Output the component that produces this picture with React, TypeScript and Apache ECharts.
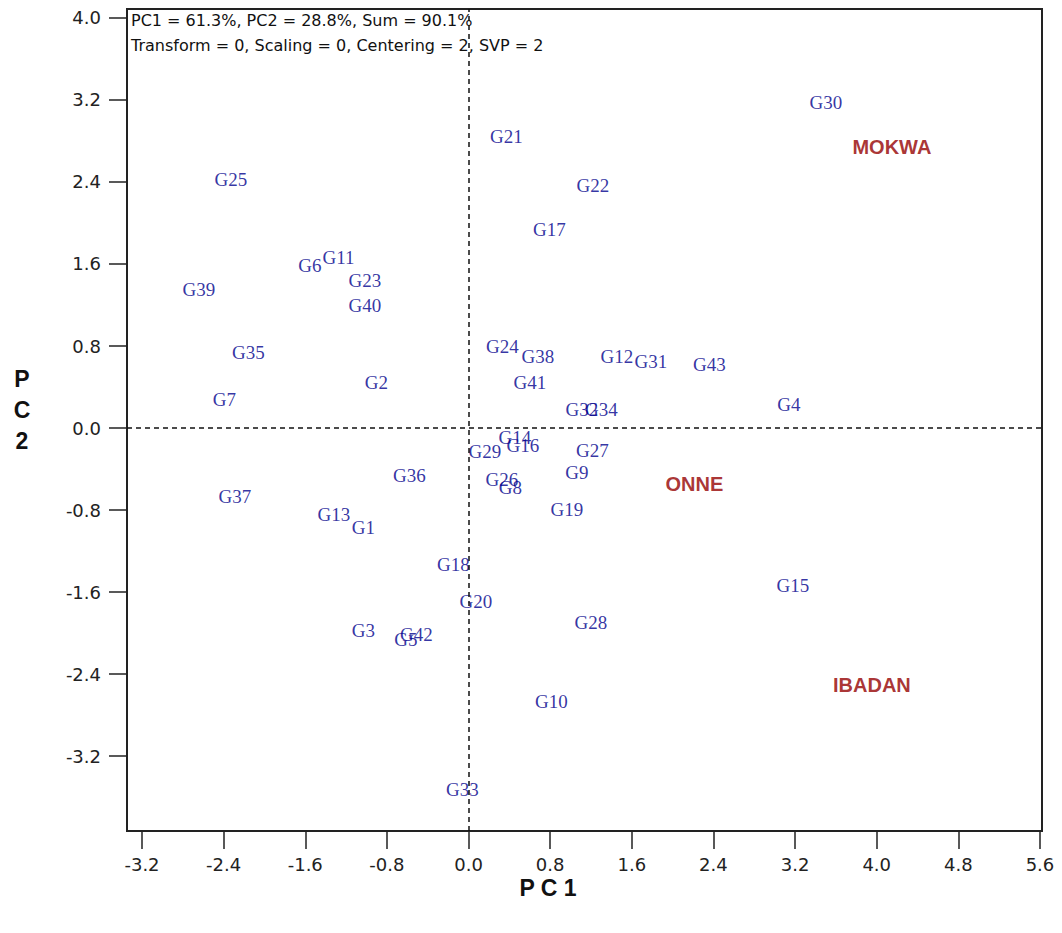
import React, { useEffect, useRef } from "react";
import * as echarts from "echarts";

const genotypes = ["G30","G21","G22","G17","G25","G11","G6","G23","G40","G39","G35","G7","G2","G24","G38","G41","G12","G31","G43","G4","G32","G34","G14","G16","G29","G27","G9","G26","G8","G19","G36","G37","G13","G1","G18","G20","G15","G28","G3","G42","G5","G10","G33"];
const genoPC1 = [3.503,0.371,1.219,0.793,-2.329,-1.275,-1.554,-1.015,-1.015,-2.642,-2.157,-2.392,-0.903,0.332,0.680,0.602,1.454,1.788,2.361,3.140,1.111,1.302,0.455,0.533,0.161,1.214,1.062,0.327,0.411,0.964,-0.579,-2.290,-1.319,-1.030,-0.148,0.073,3.179,1.200,-1.030,-0.511,-0.613,0.812,-0.060];
const genoPC2 = [3.180,2.844,2.361,1.937,2.424,1.659,1.585,1.439,1.195,1.356,0.737,0.278,0.444,0.800,0.702,0.444,0.693,0.644,0.624,0.229,0.180,0.180,-0.088,-0.166,-0.234,-0.215,-0.439,-0.498,-0.585,-0.795,-0.459,-0.673,-0.844,-0.971,-1.332,-1.693,-1.532,-1.902,-1.971,-2.010,-2.063,-2.668,-3.522];

const environments = ["MOKWA","ONNE","IBADAN"];
const envPC1 = [4.149,2.214,3.953];
const envPC2 = [2.737,-0.551,-2.512];

const xTicks = [-3.2,-2.4,-1.6,-0.8,0.0,0.8,1.6,2.4,3.2,4.0,4.8,5.6];
const yTicks = [-3.2,-2.4,-1.6,-0.8,0.0,0.8,1.6,2.4,3.2,4.0];

const infoLine1 = "PC1 = 61.3%, PC2 = 28.8%, Sum = 90.1%";
const infoLine2 = "Transform = 0, Scaling = 0, Centering = 2, SVP = 2";

export default function App() {
  const ref = useRef<HTMLDivElement>(null);
  useEffect(() => {
    if (!ref.current) return;
    document.body.style.margin = "0";
    const chart = echarts.init(ref.current, null, { renderer: "svg" });
    const tickFont = { fontFamily: "DejaVu Sans", fontSize: 18, color: "#222" };
    const option: any = {
      animation: false,
      backgroundColor: "#fff",
      grid: {
        left: 127, right: 20, top: 9, bottom: 102,
        show: true, borderColor: "#222", borderWidth: 2, backgroundColor: "transparent",
      },
      xAxis: {
        type: "value", min: -3.347, max: 5.62,
        splitLine: { show: false },
        axisLine: { show: true, onZero: false, lineStyle: { color: "#222", width: 2 } },
        axisTick: { show: true, length: 18, customValues: xTicks, lineStyle: { color: "#222", width: 1.5 } },
        axisLabel: { customValues: xTicks, margin: 24, formatter: (v: number) => v.toFixed(1), ...tickFont },
      },
      yAxis: {
        type: "value", min: -3.9317, max: 4.0878,
        splitLine: { show: false },
        axisLine: { show: true, onZero: false, lineStyle: { color: "#222", width: 2 } },
        axisTick: { show: true, length: 18, customValues: yTicks, lineStyle: { color: "#222", width: 1.5 } },
        axisLabel: { customValues: yTicks, margin: 26, formatter: (v: number) => v.toFixed(1), ...tickFont },
      },
      series: [
        {
          type: "scatter",
          symbolSize: 0.1,
          itemStyle: { color: "transparent" },
          data: genotypes.map((g, i) => ({ name: g, value: [genoPC1[i], genoPC2[i]] })),
          label: {
            show: true, position: "inside", formatter: "{b}",
            fontFamily: "Liberation Serif", fontSize: 19, color: "#00008c",
            align: "center", verticalAlign: "middle",
          },
          labelLayout: { hideOverlap: false },
          markLine: {
            silent: true, symbol: "none", label: { show: false },
            lineStyle: { color: "#111", type: [5, 4], width: 1.5 },
            data: [{ xAxis: 0 }, { yAxis: 0 }],
          },
          z: 3,
        },
        {
          type: "scatter",
          symbolSize: 0.1,
          itemStyle: { color: "transparent" },
          data: environments.map((e, i) => ({ name: e, value: [envPC1[i], envPC2[i]] })),
          label: {
            show: true, position: "inside", formatter: "{b}",
            fontFamily: "Liberation Sans", fontWeight: "bold", fontSize: 20, color: "#940000",
            align: "center", verticalAlign: "middle",
          },
          z: 3,
        },
      ],
      graphic: [
        { type: "text", x: 131, y: 20, style: { text: infoLine1, fontFamily: "DejaVu Sans", fontSize: 16, fill: "#111", verticalAlign: "middle" } },
        { type: "text", x: 131, y: 45, style: { text: infoLine2, fontFamily: "DejaVu Sans", fontSize: 16, fill: "#111", verticalAlign: "middle" } },
        { type: "text", x: 22, y: 410, style: { text: "P\nC\n2", fontFamily: "Liberation Sans", fontWeight: "bold", fontSize: 23, lineHeight: 31, fill: "#111", align: "center", verticalAlign: "middle" } },
        { type: "text", x: 548, y: 888, style: { text: "P C 1", fontFamily: "Liberation Sans", fontWeight: "bold", fontSize: 23, fill: "#111", align: "center", verticalAlign: "middle" } },
      ],
    };
    chart.setOption(option);
    return () => chart.dispose();
  }, []);
  return <div ref={ref} style={{ width: 1062, height: 933 }} />;
}
